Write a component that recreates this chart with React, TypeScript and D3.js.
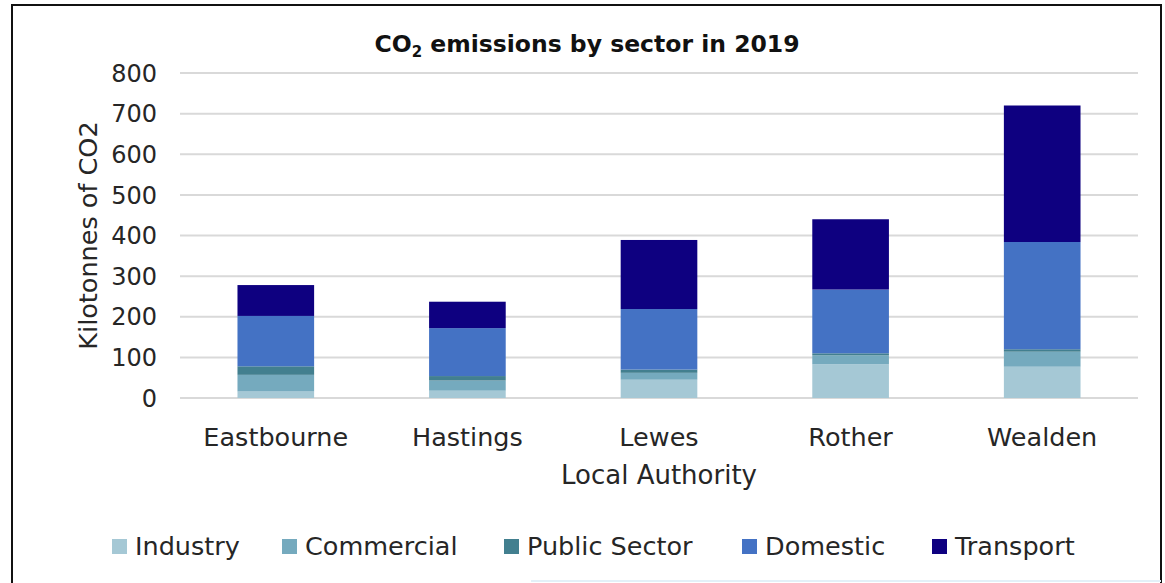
import { useEffect, useRef } from "react";
import * as d3 from "d3";

// data
const authorities = ["Eastbourne", "Hastings", "Lewes", "Rother", "Wealden"];
const sectors = ["Industry", "Commercial", "Public Sector", "Domestic", "Transport"];
const industry = [16, 18, 45, 83, 77];
const commercial = [41, 25, 17, 22, 37];
const publicSector = [21, 11, 8, 5, 6];
const domestic = [124, 118, 149, 157, 264];
const transport = [76, 65, 170, 173, 336];
const yTicks = [0, 100, 200, 300, 400, 500, 600, 700, 800];
const colors = ["#A5C8D5", "#75AABE", "#427F8F", "#4472C4", "#0E0080"];

const FONT = "'DejaVu Sans', sans-serif";

const App: React.FC = () => {
  const ref = useRef<SVGSVGElement>(null);

  useEffect(() => {
    const width = 1165;
    const height = 583;
    const margin = { left: 180, right: 27, top: 73, bottom: 185 };

    const svg = d3.select(ref.current).attr("width", width).attr("height", height);
    svg.selectAll("*").remove();

    // frame
    svg.append("rect").attr("x", 0).attr("y", 0).attr("width", width).attr("height", height).attr("fill", "#fff");
    svg.append("path")
      .attr("d", `M12,${height} V5 H1161 V${height}`)
      .attr("fill", "none")
      .attr("stroke", "#111")
      .attr("stroke-width", 2);
    svg.append("line")
      .attr("x1", 531).attr("x2", 1161).attr("y1", 581).attr("y2", 581)
      .attr("stroke", "#E3F0F8").attr("stroke-width", 2);

    const rows = authorities.map((a, i) => ({
      name: a,
      Industry: industry[i],
      Commercial: commercial[i],
      "Public Sector": publicSector[i],
      Domestic: domestic[i],
      Transport: transport[i],
    }));

    const x = d3.scaleBand()
      .domain(authorities)
      .range([margin.left, width - margin.right])
      .paddingInner(0.6)
      .paddingOuter(0.3);

    const y = d3.scaleLinear()
      .domain([0, 800])
      .range([height - margin.bottom, margin.top]);

    // gridlines
    svg.append("g")
      .selectAll("line")
      .data(yTicks)
      .join("line")
      .attr("x1", margin.left)
      .attr("x2", width - margin.right)
      .attr("y1", d => y(d))
      .attr("y2", d => y(d))
      .attr("stroke", "#D9D9D9")
      .attr("stroke-width", 2);

    // y tick labels
    svg.append("g")
      .selectAll("text")
      .data(yTicks)
      .join("text")
      .attr("x", 157)
      .attr("y", d => y(d))
      .attr("dy", "0.36em")
      .attr("text-anchor", "end")
      .attr("font-family", FONT)
      .attr("font-size", 24)
      .attr("fill", "#262626")
      .text(d => d);

    // stacked bars
    const stack = d3.stack<any>().keys(sectors);
    const series = stack(rows);

    svg.append("g")
      .selectAll("g")
      .data(series)
      .join("g")
      .attr("fill", (_, i) => colors[i])
      .selectAll("rect")
      .data(d => d)
      .join("rect")
      .attr("x", d => x(d.data.name)!)
      .attr("width", x.bandwidth())
      .attr("y", d => y(d[1]))
      .attr("height", d => y(d[0]) - y(d[1]));

    // category labels
    svg.append("g")
      .selectAll("text")
      .data(authorities)
      .join("text")
      .attr("x", d => x(d)! + x.bandwidth() / 2)
      .attr("y", 446)
      .attr("text-anchor", "middle")
      .attr("font-family", FONT)
      .attr("font-size", 25.5)
      .attr("fill", "#262626")
      .text(d => d);

    // axis titles
    svg.append("text")
      .attr("x", (margin.left + width - margin.right) / 2)
      .attr("y", 484)
      .attr("text-anchor", "middle")
      .attr("font-family", FONT)
      .attr("font-size", 26)
      .attr("fill", "#262626")
      .text("Local Authority");

    svg.append("text")
      .attr("transform", `translate(97,${(y(0) + y(800)) / 2}) rotate(-90)`)
      .attr("text-anchor", "middle")
      .attr("font-family", FONT)
      .attr("font-size", 25.5)
      .attr("fill", "#262626")
      .text("Kilotonnes of CO2");

    // title
    const title = svg.append("text")
      .attr("x", 587)
      .attr("y", 52)
      .attr("text-anchor", "middle")
      .attr("font-family", FONT)
      .attr("font-size", 23.5)
      .attr("font-weight", "bold")
      .attr("fill", "#111");
    title.append("tspan").text("CO");
    title.append("tspan").attr("font-size", 15).attr("dy", 5).text("2");
    title.append("tspan").attr("dy", -5).text(" emissions by sector in 2019");

    // legend
    const legendTextX = [135, 305, 527, 765, 955];
    const legend = svg.append("g")
      .selectAll("g")
      .data(sectors)
      .join("g")
      .attr("transform", (_, i) => `translate(${legendTextX[i]},0)`);
    legend.append("rect")
      .attr("x", -23)
      .attr("y", 539)
      .attr("width", 15)
      .attr("height", 15)
      .attr("fill", (_, i) => colors[i]);
    legend.append("text")
      .attr("x", 0)
      .attr("y", 555)
      .attr("font-family", FONT)
      .attr("font-size", 25.5)
      .attr("fill", "#262626")
      .text(d => d);
  }, []);

  return <svg ref={ref} style={{ position: "absolute", left: 0, top: 0 }} />;
};

export default App;
